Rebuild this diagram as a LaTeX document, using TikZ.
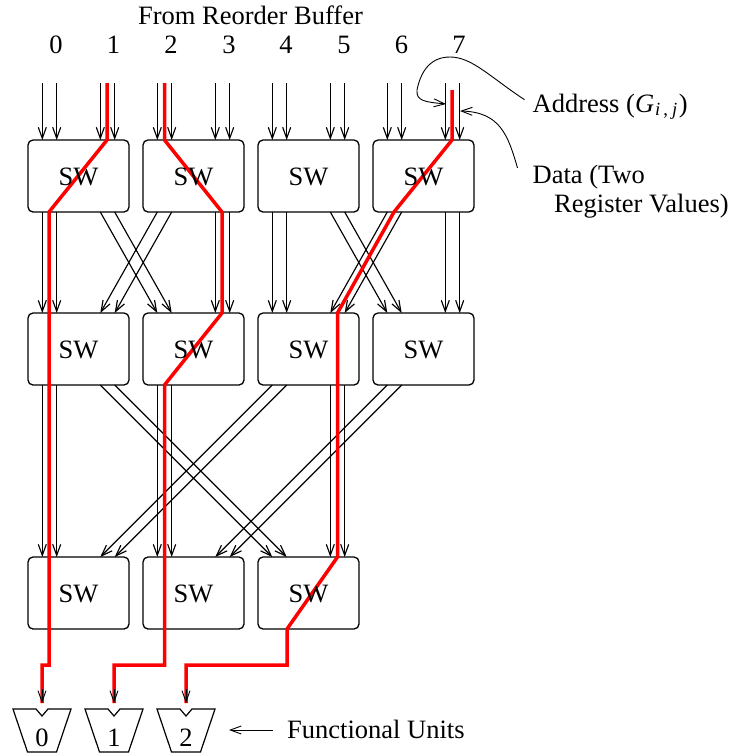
\documentclass[tikz,border=0pt]{standalone}
\usepackage{fontspec}
\setmainfont{Liberation Serif}
\usetikzlibrary{arrows.meta,calc}

\tikzset{
  swbox/.style={draw,rounded corners=5pt,minimum width=101pt,minimum height=72pt,inner sep=0pt,outer sep=0pt,line width=1.3pt},
  wire/.style={-{Straight Barb[length=11pt,width=8pt]},line width=1.15pt},
  thinwire/.style={-{Straight Barb[length=11pt,width=8pt]},line width=0.9pt},
  redpath/.style={red,line width=3.5pt,line join=miter},
  unit/.style={draw,line width=1.2pt,line join=miter},
  lab/.style={anchor=base west,inner sep=0pt}
}
% two wires side by side between two switches
\newcommand{\wirepair}[4]{\foreach \d in {0.3,14.7}{\draw[wire] ($(#1.south west)+(#2+\d,0)$) -- ($(#3.north west)+(#4+\d,0)$);}}
% two wires coming in from above
\newcommand{\inpair}[2]{\foreach \d in {0.3,14.7}{\draw[wire] ($(#1.north west)+(#2+\d,57)$) -- ($(#1.north west)+(#2+\d,0)$);}}

\begin{document}
\begin{tikzpicture}[x=1pt,y=1pt,font=\fontsize{26.5}{30}\selectfont]
\useasboundingbox (0,0) rectangle (729,-753);

% Titles
\node[inner sep=0pt,anchor=base] (title) at (250.5,-24) {From Reorder Buffer};
\foreach \n/\x in {0/56,1/113.5,2/171,3/229,4/286,5/344,6/401.5,7/459}{
  \node[inner sep=0pt,anchor=base] (in\n) at (\x,-53) {\n};
}

% Switches
\foreach \c/\x in {1/78.5,2/193.5,3/308.5,4/423.5}{
  \node[swbox] (a\c) at (\x,-176) {};
  \node[swbox] (b\c) at (\x,-349) {};
}
\foreach \c/\x in {1/78.5,2/193.5,3/308.5}{
  \node[swbox] (c\c) at (\x,-593) {};
}

% Inputs
\foreach \c in {1,2,3,4}{
  \inpair{a\c}{14}
  \inpair{a\c}{72}
}

% First stage
\wirepair{a1}{14}{b1}{14}
\wirepair{a1}{72}{b2}{14}
\wirepair{a2}{14}{b1}{72}
\wirepair{a2}{72}{b2}{72}
\wirepair{a3}{14}{b3}{14}
\wirepair{a3}{72}{b4}{14}
\wirepair{a4}{14}{b3}{72}
\wirepair{a4}{72}{b4}{72}

% Second stage
\wirepair{b1}{14}{c1}{14}
\wirepair{b1}{72}{c3}{14}
\wirepair{b2}{14}{c2}{14}
\wirepair{b3}{14}{c1}{72}
\wirepair{b3}{72}{c3}{72}
\wirepair{b4}{14}{c2}{72}

% Functional units
\foreach \n/\x in {0/42,1/114,2/186}{
  \node[inner sep=0pt,anchor=base] (fu\n) at (\x,-746) {\n};
  \coordinate (fuin\n) at (\x,-703);
  \draw[unit] ($(\x,-709)+(-29,0)$) -- ++(23,0) -- ++(6,-7) -- ++(6,7) -- ++(23,0)
    -- ++(-14.5,-43) -- ++(-29,0) -- cycle;
}

% Selected routes
\draw[redpath] ($(a1.north west)+(79,57)$) -- ($(a1.north west)+(79,0)$) -- ($(a1.south west)+(21,0)$)
  -- ++(0,-453) -| (fuin0);
\draw[redpath] ($(a2.north west)+(21.5,57)$) -- ($(a2.north west)+(21.5,0)$) -- ($(a2.south west)+(79,0)$)
  -- ($(b2.north west)+(79,0)$) -- ($(b2.south west)+(21.5,0)$) -- ++(0,-280) -| (fuin1);
\draw[redpath] ($(a4.north west)+(79,50)$) -- ($(a4.north west)+(79,0)$) -- ($(a4.south west)+(21,0)$)
  -- ($(b3.north west)+(79.5,0)$) -- ($(c3.north west)+(79.5,0)$) -- ($(c3.south west)+(29,0)$)
  -- ++(0,-36) -| (fuin2);

% Tips over the routes
\foreach \n in {0,1,2}{
  \draw[thinwire] ($(fuin\n)+(0,14)$) -- (fuin\n);
}

% Switch names
\foreach \n in {a1,a2,a3,a4,b1,b2,b3,b4,c1,c2,c3}{
  \node[inner sep=0pt] at ($(\n)+(0,-1)$) {SW};
}

% Labels
\node[lab] (addr) at (532.5,-112) {Address (\textit{G}\kern1pt\textsubscript{\textit{i}\,,\,\kern1pt\textit{j}}\kern1pt)};
\node[lab,align=left] (data) at (532.5,-212) {Data (Two\\[-1.5pt]\hspace*{21.5pt}Register Values)};
\node[lab] (units) at (287,-738) {Functional Units};

\coordinate (addrtip) at (446,-104);
\coordinate (datatip) at (460,-111);
\coordinate (unittip) at (229,-730);
\draw[thinwire] ($(addr.west)+(-8,7)$) .. controls (490,-77) and (472,-57) .. (450,-57)
  .. controls (428,-57) and (420,-75) .. (417,-90)
  .. controls (416,-101) and (425,-102) .. (addrtip);
\draw[thinwire] ($(data.north west)+(-15,-3)$) .. controls (508,-135) and (500,-112) .. (datatip);
\draw[thinwire] (units.west |- unittip) ++(-14,0) -- (unittip);

\end{tikzpicture}
\end{document}
